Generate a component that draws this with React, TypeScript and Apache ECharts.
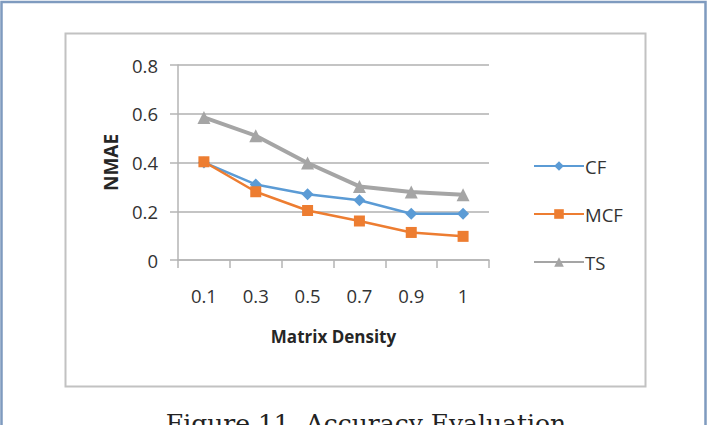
import React, { useEffect, useRef } from "react";
import * as echarts from "echarts";

const categories = ["0.1", "0.3", "0.5", "0.7", "0.9", "1"];
const cfValues = [0.4, 0.31, 0.27, 0.245, 0.19, 0.19];
const mcfValues = [0.403, 0.28, 0.203, 0.16, 0.113, 0.097];
const tsValues = [0.585, 0.51, 0.398, 0.302, 0.279, 0.268];
const yTicks = [0, 0.2, 0.4, 0.6, 0.8];

const sansFont = "'Open Sans', 'Liberation Sans', sans-serif";

export default function App() {
  const ref = useRef<HTMLDivElement>(null);
  useEffect(() => {
    if (!ref.current) return;
    const chart = echarts.init(ref.current, undefined, { renderer: "svg" });
    chart.setOption({
      animation: false,
      backgroundColor: "#ffffff",
      grid: { left: 178, right: 220, top: 65, bottom: 165 },
      xAxis: {
        type: "category",
        data: categories,
        boundaryGap: true,
        name: "Matrix Density",
        nameLocation: "middle",
        nameGap: 68,
        nameTextStyle: { fontFamily: sansFont, fontSize: 17, fontWeight: "bold", color: "#262626" },
        axisLine: { lineStyle: { color: "#b5b5b5", width: 1.5 } },
        axisTick: { show: true, length: 8, lineStyle: { color: "#b5b5b5", width: 1.5 } },
        axisLabel: { margin: 26, fontFamily: sansFont, fontSize: 18.5, color: "#333333" },
        splitLine: { show: false },
      },
      yAxis: {
        type: "value",
        min: 0,
        max: 0.8,
        interval: 0.2,
        name: "NMAE",
        nameLocation: "middle",
        nameGap: 58,
        nameRotate: 90,
        nameTextStyle: { fontFamily: sansFont, fontSize: 19, fontWeight: "bold", color: "#262626" },
        axisLine: { show: true, lineStyle: { color: "#b5b5b5", width: 1.5 } },
        axisTick: { show: true, length: 8, lineStyle: { color: "#b5b5b5", width: 1.5 } },
        axisLabel: {
          margin: 20,
          fontFamily: sansFont,
          fontSize: 18.5,
          color: "#333333",
          formatter: (v: number) => {
            const t = yTicks.find((x) => Math.abs(x - v) < 1e-9);
            return t === undefined ? "" : t === 0 ? "0" : String(t);
          },
        },
        splitLine: { show: true, lineStyle: { color: "#b0b0b0", width: 1.5 } },
      },
      legend: {
        orient: "vertical",
        left: 528,
        top: 151,
        itemWidth: 50,
        itemHeight: 12,
        itemGap: 28,
        textStyle: { fontFamily: sansFont, fontSize: 18.5, color: "#333333", lineHeight: 20, padding: [0, 0, 0, -4] },
        data: ["CF", "MCF", "TS"],
      },
      series: [
        {
          name: "CF",
          type: "line",
          data: cfValues,
          symbol: "diamond",
          symbolSize: 12,
          lineStyle: { color: "#5b9bd5", width: 2.5 },
          itemStyle: { color: "#5b9bd5" },
          z: 3,
        },
        {
          name: "MCF",
          type: "line",
          data: mcfValues,
          symbol: "rect",
          symbolSize: 11,
          lineStyle: { color: "#ed7d31", width: 2.5 },
          itemStyle: { color: "#ed7d31" },
          z: 4,
        },
        {
          name: "TS",
          type: "line",
          data: tsValues,
          symbol: "triangle",
          symbolSize: 13,
          lineStyle: { color: "#a5a5a5", width: 4 },
          itemStyle: { color: "#a5a5a5" },
          z: 2,
        },
      ],
      graphic: [
        {
          type: "rect",
          shape: { x: 1.5, y: 2, width: 704, height: 440 },
          style: { fill: "none", stroke: "#7f9bbf", lineWidth: 2.5 },
          silent: true,
          z: -1,
        },
        {
          type: "rect",
          shape: { x: 65.5, y: 33.5, width: 580, height: 353 },
          style: { fill: "none", stroke: "#c2c2c2", lineWidth: 2 },
          silent: true,
          z: -1,
        },
        {
          type: "text",
          x: 366,
          y: 411,
          style: {
            text: "Figure 11. Accuracy Evaluation",
            fontFamily: "'DejaVu Serif', 'Liberation Serif', serif",
            fontSize: 25,
            fill: "#222222",
            align: "center",
            verticalAlign: "top",
          },
          silent: true,
        },
      ],
    });
    return () => chart.dispose();
  }, []);
  return (
    <div
      ref={ref}
      style={{ position: "absolute", left: 0, top: 0, width: 709, height: 425 }}
    />
  );
}
